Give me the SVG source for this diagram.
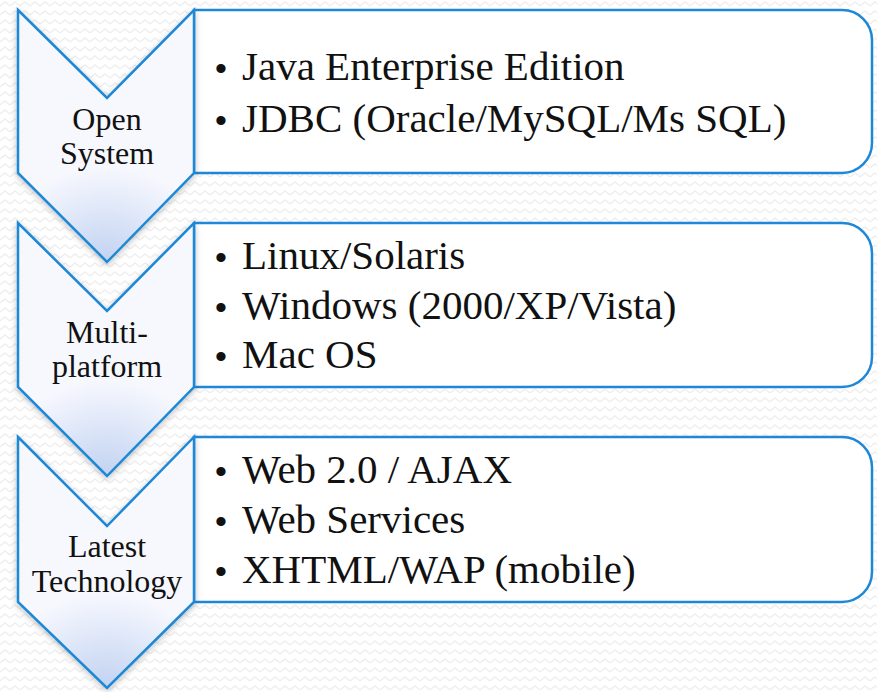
<svg xmlns="http://www.w3.org/2000/svg" width="877" height="692" viewBox="0 0 877 692">
  <defs>
    <pattern id="zig" width="10" height="9" patternUnits="userSpaceOnUse">
      <path d="M0,6 L5,2 L10,6" fill="none" stroke="#efefef" stroke-width="1.6"/>
    </pattern>
    <radialGradient id="glow" cx="0.5" cy="1" r="0.38" fx="0.5" fy="1" gradientTransform="translate(0.5,1) scale(1.6,1) translate(-0.5,-1)">
      <stop offset="0" stop-color="#c2d2f0"/>
      <stop offset="0.5" stop-color="#dce5f8"/>
      <stop offset="1" stop-color="#f7f8fe"/>
    </radialGradient>
    <filter id="shadow" x="-20%" y="-20%" width="140%" height="140%">
      <feDropShadow dx="0" dy="2" stdDeviation="3" flood-color="#000" flood-opacity="0.25"/>
    </filter>
  </defs>
  <style>
    .box { fill: #ffffff; stroke: #1e88d6; stroke-width: 2.5; }
    .chev { fill: url(#glow); stroke: #1e88d6; stroke-width: 2.5; stroke-linejoin: miter; filter: url(#shadow); }
    .lbl { font-family: "Liberation Serif", "Times New Roman", serif; font-size: 32px; fill: #111; text-anchor: middle; }
    .item { font-family: "Liberation Serif", "Times New Roman", serif; font-size: 41px; fill: #111; }
    .bul { font-family: "Liberation Sans", Arial, sans-serif; font-size: 34px; fill: #111; }
  </style>
  <rect x="0" y="0" width="877" height="692" fill="#ffffff"/>
  <rect x="0" y="0" width="877" height="692" fill="url(#zig)"/>

  <g id="node-open-system">
    <path class="box" d="M194,10 H842 A30,30 0 0 1 872,40 V143 A30,30 0 0 1 842,173 H194 Z"/>
    <path class="chev" d="M18,10 L107,98 L194,10 L194,173 L107,262 L18,173 Z"/>
    <text class="lbl" x="107" y="130">Open</text>
    <text class="lbl" x="107" y="164">System</text>
    <text class="bul" x="215" y="80">•</text>
    <text class="item" x="242" y="80">Java Enterprise Edition</text>
    <text class="bul" x="215" y="132">•</text>
    <text class="item" x="242" y="132">JDBC (Oracle/MySQL/Ms SQL)</text>
  </g>

  <g id="node-multi-platform">
    <path class="box" d="M194,223 H842 A30,30 0 0 1 872,253 V357 A30,30 0 0 1 842,387 H194 Z"/>
    <path class="chev" d="M18,223 L107,311 L194,223 L194,387 L107,476 L18,387 Z"/>
    <text class="lbl" x="107" y="343">Multi-</text>
    <text class="lbl" x="107" y="377">platform</text>
    <text class="bul" x="215" y="269">•</text>
    <text class="item" x="242" y="269">Linux/Solaris</text>
    <text class="bul" x="215" y="319">•</text>
    <text class="item" x="242" y="319">Windows (2000/XP/Vista)</text>
    <text class="bul" x="215" y="368">•</text>
    <text class="item" x="242" y="368">Mac OS</text>
  </g>

  <g id="node-latest-technology">
    <path class="box" d="M194,437 H842 A30,30 0 0 1 872,467 V572 A30,30 0 0 1 842,602 H194 Z"/>
    <path class="chev" d="M18,437 L107,526 L194,437 L194,602 L107,688 L18,602 Z"/>
    <text class="lbl" x="107" y="557">Latest</text>
    <text class="lbl" x="107" y="592">Technology</text>
    <text class="bul" x="215" y="483">•</text>
    <text class="item" x="242" y="483">Web 2.0 / AJAX</text>
    <text class="bul" x="215" y="533">•</text>
    <text class="item" x="242" y="533">Web Services</text>
    <text class="bul" x="215" y="583">•</text>
    <text class="item" x="242" y="583">XHTML/WAP (mobile)</text>
  </g>

  <g id="connectors"></g>
</svg>
